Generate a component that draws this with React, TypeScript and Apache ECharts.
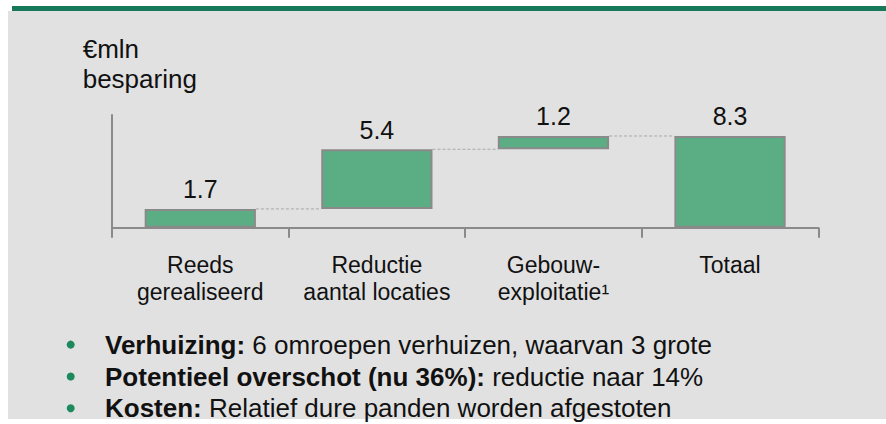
import React, { useEffect, useRef } from "react";
import * as echarts from "echarts";

const categories = ["Reeds\ngerealiseerd", "Reductie\naantal locaties", "Gebouw-\nexploitatie¹", "Totaal"];
const savings = [1.7, 5.4, 1.2, 8.3];
const isTotal = [false, false, false, true];
const titleLines = ["€mln", "besparing"];
const bulletBold = ["Verhuizing:", "Potentieel overschot (nu 36%):", "Kosten:"];
const bulletText = [
  " 6 omroepen verhuizen, waarvan 3 grote",
  " reductie naar 14%",
  " Relatief dure panden worden afgestoten",
];

const FONT = "'Liberation Sans', Arial, Helvetica, sans-serif";

export default function App() {
  const ref = useRef<HTMLDivElement>(null);
  useEffect(() => {
    if (!ref.current) return;
    const chart = echarts.init(ref.current, undefined, { renderer: "svg" });

    const bases: number[] = [];
    const tops: number[] = [];
    let run = 0;
    savings.forEach((v, i) => {
      if (isTotal[i]) {
        bases.push(0);
        tops.push(v);
      } else {
        bases.push(run);
        run += v;
        tops.push(run);
      }
    });
    const connectors = tops.slice(0, -1).map((t, i) => [i, t]);

    const graphics: any[] = [
      { type: "rect", z: -10, shape: { x: 8, y: 11, width: 878, height: 408 }, style: { fill: "#e1e1e1" } },
      { type: "rect", z: -10, shape: { x: 12, y: 6, width: 874, height: 5 }, style: { fill: "#18795a" } },
    ];
    const titleY = [49, 78.7];
    titleLines.forEach((t, i) => {
      graphics.push({
        type: "text",
        x: 82.7,
        y: titleY[i],
        style: { text: t, fontSize: 26, fontFamily: FONT, fill: "#111", verticalAlign: "middle", align: "left" },
      });
    });
    const bulletY = [344.6, 376.5, 408.3];
    bulletBold.forEach((b, i) => {
      graphics.push({
        type: "circle",
        shape: { cx: 70.7, cy: bulletY[i], r: 4 },
        style: { fill: "#1c8a5c" },
      });
      graphics.push({
        type: "text",
        x: 105,
        y: bulletY[i],
        style: {
          text: "{b|" + b + "}" + bulletText[i],
          fontSize: 26,
          fontFamily: FONT,
          fill: "#111",
          verticalAlign: "middle",
          align: "left",
          rich: { b: { fontWeight: "bold", fontSize: 26, fontFamily: FONT, fill: "#111" } },
        },
      });
    });

    chart.setOption({
      animation: false,
      backgroundColor: "#ffffff",
      textStyle: { fontFamily: FONT },
      graphic: graphics,
      grid: { left: 112, right: 67.7, top: 115, bottom: 196.3, containLabel: false },
      xAxis: {
        type: "category",
        data: categories,
        axisLine: { show: true, lineStyle: { color: "#8a8a8a", width: 2 } },
        axisTick: { show: true, length: 10, lineStyle: { color: "#8a8a8a", width: 2 } },
        axisLabel: { color: "#111", fontSize: 23, lineHeight: 27, margin: 24, fontFamily: FONT, interval: 0 },
      },
      yAxis: {
        type: "value",
        min: 0,
        max: 10.2,
        axisLine: { show: true, lineStyle: { color: "#8a8a8a", width: 2 } },
        axisTick: { show: false },
        axisLabel: { show: false },
        splitLine: { show: false },
      },
      series: [
        {
          type: "bar",
          stack: "wf",
          data: bases,
          barWidth: "63%",
          itemStyle: { color: "transparent", borderColor: "transparent" },
          emphasis: { disabled: true },
          silent: true,
        },
        {
          type: "bar",
          stack: "wf",
          data: savings,
          barWidth: "63%",
          itemStyle: { color: "#5bae84", borderColor: "#8a8a8a", borderWidth: 2 },
          label: {
            show: true,
            position: "top",
            distance: 7,
            fontSize: 25,
            color: "#111",
            fontFamily: FONT,
            formatter: (p: any) => Number(p.value).toFixed(1),
          },
          z: 3,
        },
        {
          type: "custom",
          data: connectors,
          encode: { x: 0, y: 1 },
          z: 2,
          renderItem: (_params: any, api: any) => {
            const i = api.value(0);
            const lvl = api.value(1);
            const p1 = api.coord([i, lvl]);
            const p2 = api.coord([i + 1, lvl]);
            const half = (api.size([1, 0])[0] * 0.63) / 2;
            return {
              type: "line",
              shape: { x1: p1[0] + half, y1: p1[1], x2: p2[0] - half, y2: p2[1] },
              style: { stroke: "#a8a8a8", lineWidth: 1, lineDash: [3, 2] },
            };
          },
        },
      ],
    });
    return () => chart.dispose();
  }, []);
  return <div ref={ref} style={{ position: "absolute", left: 0, top: 0, width: 886, height: 424 }} />;
}
